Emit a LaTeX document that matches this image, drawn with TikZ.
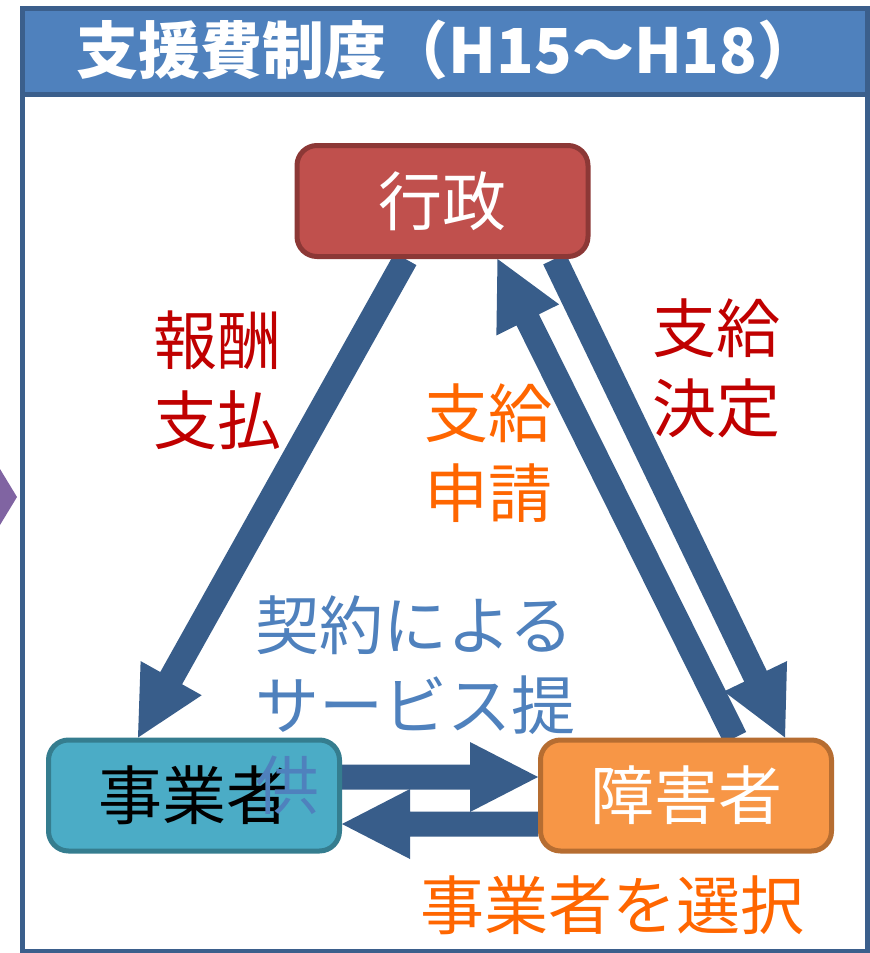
\documentclass[tikz,border=0pt]{standalone}
\usepackage{fontspec}
\newfontfamily\jp{Noto Sans CJK JP}
\usetikzlibrary{calc}
\pgfdeclarelayer{bg}
\pgfsetlayers{bg,main}
\definecolor{arrowc}{HTML}{385D8A}
\definecolor{framec}{HTML}{3B5F8C}
\definecolor{titlef}{HTML}{4F81BD}
\definecolor{redf}{HTML}{C0504D}
\definecolor{redd}{HTML}{8C3836}
\definecolor{cyanf}{HTML}{4BACC6}
\definecolor{cyand}{HTML}{357D8F}
\definecolor{orf}{HTML}{F79646}
\definecolor{ord}{HTML}{B66D31}
\definecolor{darkredT}{HTML}{C00000}
\definecolor{orangeT}{HTML}{FF6600}
\definecolor{blueT}{HTML}{4F81BD}
\definecolor{purp}{HTML}{8064A2}
\newcommand\barrow[2]{%
  \fill[arrowc] let \p1=(#1), \p2=(#2), \n1={atan2(\y2-\y1,\x2-\x1)} in
    ($(\p1)+(\n1+90:12.5pt)$)
    -- ($(\p2)+(\n1+180:68pt)+(\n1+90:12.5pt)$)
    -- ($(\p2)+(\n1+180:68pt)+(\n1+90:35pt)$)
    -- (\p2)
    -- ($(\p2)+(\n1+180:68pt)+(\n1-90:35pt)$)
    -- ($(\p2)+(\n1+180:68pt)+(\n1-90:12.5pt)$)
    -- ($(\p1)+(\n1-90:12.5pt)$) -- cycle;}
\tikzset{
  box/.style={rounded corners=20pt, line width=5pt, minimum width=291pt,
    minimum height=111pt, inner sep=0pt, font=\jp\fontsize{64}{78}\selectfont},
  lbl/.style={inner sep=0pt, font=\jp\fontsize{64}{80}\selectfont, align=center},
}
\begin{document}
\begin{tikzpicture}[x=1pt, y=-1pt]
\useasboundingbox (0,0) rectangle (870,953);
% frame and title bar
\fill[titlef] (22.5,8.5) rectangle (867.5,94.5);
\draw[framec, line width=5pt] (22.5,8.5) rectangle (867.5,951.5);
\draw[framec, line width=5pt] (22.5,94.5) -- (867.5,94.5);
\node[inner sep=0pt, text=white, font=\jp\bfseries\fontsize{62}{70}\selectfont] (title) at (448,50) {支援費制度（H15～H18）};
% purple arrow tip at left
\fill[purp] (0,469) -- (17,497) -- (0,525) -- cycle;
% nodes
\node[box, fill=redf, draw=redd, text=white] (gyosei) at (442.5,201) {行政};
\node[box, fill=cyanf, draw=cyand, text=black] (jigyo) at (194,795.5) {事業者};
\node[box, fill=orf, draw=ord, text=white] (shogai) at (686,795.5) {障害者};
% arrow end points
\coordinate (a1s) at ($(gyosei.south)+(-37,0)$);
\coordinate (a1e) at ($(jigyo.north west)+(92,0)$);
\coordinate (a2s) at ($(gyosei.south)+(112,0)$);
\coordinate (a2e) at ($(shogai.north)+(99,0)$);
\coordinate (a3s) at ($(shogai.north)+(49,0)$);
\coordinate (a3e) at ($(gyosei.south)+(55,0)$);
\coordinate (a4s) at ($(jigyo.east)+(0,-18.5)$);
\coordinate (a4e) at ($(shogai.west)+(0,-18.5)$);
\coordinate (a5s) at ($(shogai.west)+(0,28.5)$);
\coordinate (a5e) at ($(jigyo.east)+(0,28.5)$);
\begin{pgfonlayer}{bg}
\fill[white] (0,0) rectangle (870,953);
\barrow{a1s}{a1e}
\barrow{a2s}{a2e}
\barrow{a3s}{a3e}
\barrow{a4s}{a4e}
\barrow{a5s}{a5e}
\end{pgfonlayer}
% labels
\node[lbl, text=darkredT] (l1) at (217,380) {報酬\\支払};
\node[lbl, text=orangeT] (l2) at (488,453) {支給\\申請};
\node[lbl, text=darkredT] (l3) at (716,368) {支給\\決定};
\node[lbl, text=blueT, align=left, anchor=west] (l4) at (255,705) {契約による\\サービス提\\供};
\node[lbl, text=orangeT] (l5) at (612,905) {事業者を選択};
\end{tikzpicture}
\end{document}
